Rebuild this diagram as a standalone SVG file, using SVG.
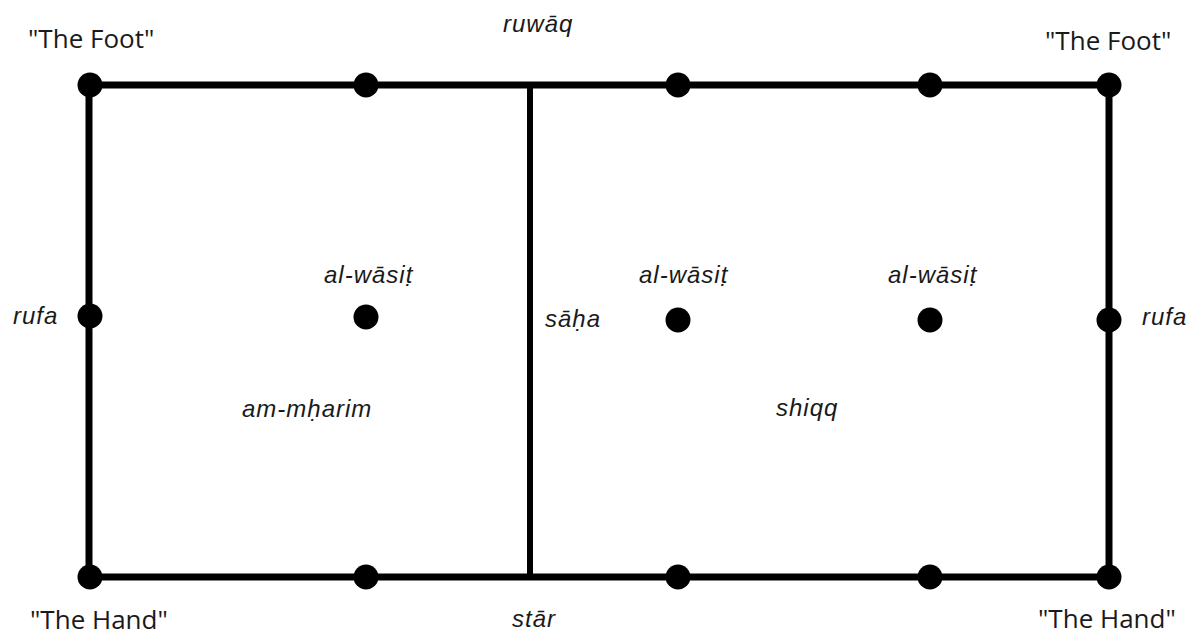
<svg xmlns="http://www.w3.org/2000/svg" width="1191" height="636" viewBox="0 0 1191 636">
<style>
.edge{stroke:#000;stroke-width:7;fill:none;stroke-linecap:butt}
.thin{stroke-width:6}
.dot{fill:#000}
.lbl{font-family:"Open Sans","DejaVu Sans",sans-serif;font-size:26px;fill:#1a1a1a}
.it{font-family:"Liberation Sans",Arial,sans-serif;font-style:italic;font-size:24px;letter-spacing:1px;fill:#1a1a1a}
</style>
<rect width="1191" height="636" fill="#fff"/>
<g id="connectors">
<line class="edge" x1="90" y1="85" x2="1109" y2="85"/>
<line class="edge" x1="90" y1="577" x2="1109" y2="577"/>
<line class="edge" x1="89" y1="85" x2="89" y2="577"/>
<line class="edge" x1="1109" y1="85" x2="1109" y2="577"/>
<line class="edge thin" x1="530" y1="85" x2="530" y2="577"/>
</g>
<g id="n-foot-left"><circle class="dot" cx="90" cy="85" r="12.5"/><text class="lbl" x="28" y="48">"The Foot"</text></g>
<g id="n-top-2"><circle class="dot" cx="366" cy="85" r="12.5"/></g>
<g id="n-top-3"><circle class="dot" cx="678" cy="85" r="12.5"/></g>
<g id="n-top-4"><circle class="dot" cx="930" cy="85" r="12.5"/></g>
<g id="n-foot-right"><circle class="dot" cx="1109" cy="85" r="12.5"/><text class="lbl" x="1045" y="50">"The Foot"</text></g>
<g id="n-hand-left"><circle class="dot" cx="90" cy="577" r="12.5"/><text class="lbl" x="30" y="629">"The Hand"</text></g>
<g id="n-bot-2"><circle class="dot" cx="366" cy="577" r="12.5"/></g>
<g id="n-bot-3"><circle class="dot" cx="678" cy="577" r="12.5"/></g>
<g id="n-bot-4"><circle class="dot" cx="930" cy="577" r="12.5"/></g>
<g id="n-hand-right"><circle class="dot" cx="1109" cy="577" r="12.5"/><text class="lbl" x="1038" y="628">"The Hand"</text></g>
<g id="n-rufa-left"><circle class="dot" cx="90" cy="316" r="12.5"/><text class="it" x="13" y="324">rufa</text></g>
<g id="n-rufa-right"><circle class="dot" cx="1109" cy="320" r="12.5"/><text class="it" x="1142" y="325">rufa</text></g>
<g id="n-wasit-1"><circle class="dot" cx="366" cy="317" r="12.5"/><text class="it" x="324" y="283">al-wāsiṭ</text></g>
<g id="n-wasit-2"><circle class="dot" cx="678" cy="320" r="12.5"/><text class="it" x="639" y="283">al-wāsiṭ</text></g>
<g id="n-wasit-3"><circle class="dot" cx="930" cy="320" r="12.5"/><text class="it" x="888" y="283">al-wāsiṭ</text></g>
<g id="labels">
<text class="it" x="503" y="32">ruwāq</text>
<text class="it" x="512" y="627">stār</text>
<text class="it" x="545" y="327">sāḥa</text>
<text class="it" x="242" y="417">am-mḥarim</text>
<text class="it" x="776" y="416">shiqq</text>
</g>
</svg>
